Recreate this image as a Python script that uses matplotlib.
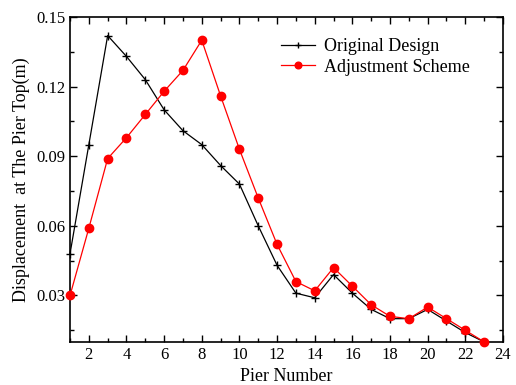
import matplotlib
matplotlib.use("Agg")
import matplotlib.pyplot as plt
from matplotlib.ticker import MultipleLocator

plt.rcParams['font.family'] = ['Liberation Serif', 'DejaVu Serif']

# data
piers = list(range(1, 24))
original = [0.048, 0.095, 0.142, 0.133, 0.123, 0.110, 0.101, 0.095, 0.086, 0.078,
            0.060, 0.043, 0.031, 0.029, 0.039, 0.031, 0.024, 0.020, 0.020, 0.024,
            0.019, 0.014, 0.010]
adjusted = [0.030, 0.059, 0.089, 0.098, 0.108, 0.118, 0.127, 0.140, 0.116, 0.093,
            0.072, 0.052, 0.036, 0.032, 0.042, 0.034, 0.026, 0.021, 0.020, 0.025,
            0.020, 0.015, 0.010]

fig = plt.figure(figsize=(5.16, 3.85), dpi=100)
ax = fig.add_axes([0.1357, 0.112, 0.839, 0.8438])

ax.plot(piers, original, color="black", marker="+", markersize=6, linewidth=0.9,
        markeredgewidth=1.0, label="Original Design", clip_on=False, zorder=2)
ax.plot(piers, adjusted, color="red", marker="o", markersize=6, linewidth=0.9,
        label="Adjustment Scheme", clip_on=False, zorder=3)

ax.set_xlim(1, 24)
ax.set_ylim(0.01, 0.15)
ax.xaxis.set_major_locator(MultipleLocator(2))
ax.xaxis.set_minor_locator(MultipleLocator(1))
ax.yaxis.set_minor_locator(MultipleLocator(0.015))
ax.set_yticks([0.03, 0.06, 0.09, 0.12, 0.15])
ax.set_yticklabels(["0.03", "0.06", "0.09", "0.12", "0.15"])

ax.tick_params(which="both", direction="in", top=True, right=True, labelsize=12, width=1)
ax.tick_params(which="major", length=5)
ax.tick_params(which="minor", length=3)
for s in ax.spines.values():
    s.set_linewidth(1.2)

ax.set_xlabel("Pier Number", fontsize=13, labelpad=4)
ax.set_ylabel("Displacement  at The Pier Top(m)", fontsize=13, labelpad=4)

ax.legend(loc="upper left", bbox_to_anchor=(0.45, 0.985), frameon=False, fontsize=13,
          handlelength=1.9, handletextpad=0.5, labelspacing=0.2, markerscale=0.8)

fig.savefig("out.png", dpi=100)
